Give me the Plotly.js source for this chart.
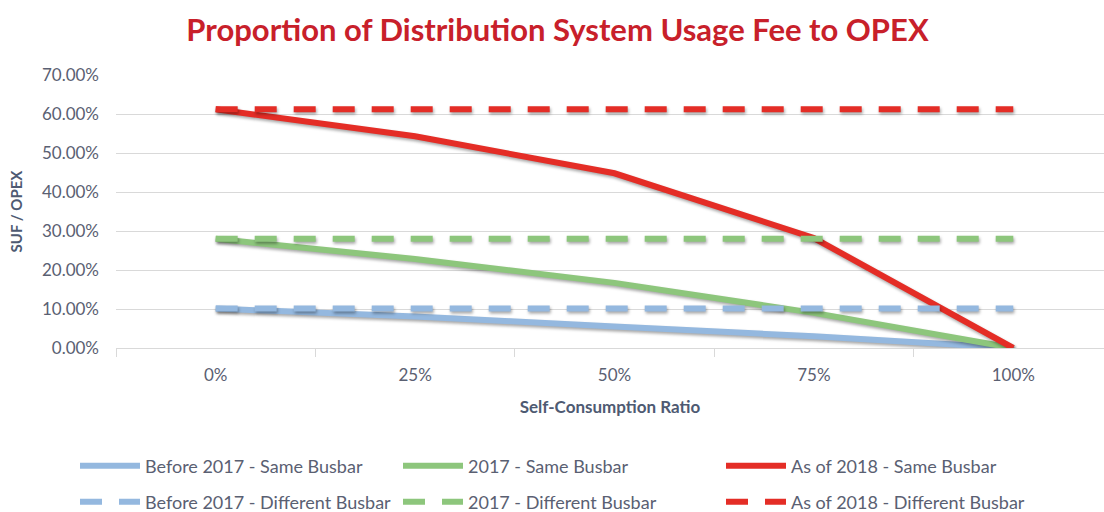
<!DOCTYPE html>
<html>
<head>
<meta charset="utf-8">
<script src="https://cdn.plot.ly/plotly-3.0.1.min.js"></script>
<style>
  html, body { margin: 0; padding: 0; background: #ffffff; }
  #chart { width: 1104px; height: 512px; }
</style>
</head>
<body>
<div id="chart"></div>
<script>
// Self-consumption ratio categories
const categories = ['0%', '25%', '50%', '75%', '100%'];

// Share of the distribution system usage fee in OPEX, per tariff period
const before2017Same = [0.101, 0.081, 0.055, 0.030, 0.000];
const y2017Same = [0.280, 0.228, 0.167, 0.090, 0.000];
const asOf2018Same = [0.612, 0.543, 0.448, 0.282, 0.000];
const before2017Different = [0.101, 0.101, 0.101, 0.101, 0.101];
const y2017Different = [0.280, 0.280, 0.280, 0.280, 0.280];
const asOf2018Different = [0.612, 0.612, 0.612, 0.612, 0.612];

const seriesNames = [
  'Before 2017 - Same Busbar', '2017 - Same Busbar', 'As of 2018 - Same Busbar',
  'Before 2017 - Different Busbar', '2017 - Different Busbar', 'As of 2018 - Different Busbar'
];

const BLUE = '#94B8DF';
const GREEN = '#8DC67C';
const RED = '#E42D26';
const TEXT = '#5A6072';
const AXIS_TITLE = '#4E5A72';
const GRID = '#D9D9D9';
const FONT = 'Lato, "Open Sans", sans-serif';

function line(y, name, color, dashed, legendId) {
  return {
    x: categories,
    y: y,
    name: name,
    type: 'scatter',
    mode: 'lines',
    line: { color: color, width: 6, dash: dashed ? '22px,17px' : 'solid' },
    legend: legendId,
    hoverinfo: 'x+y+name'
  };
}

const data = [
  line(before2017Same, seriesNames[0], BLUE, false, 'legend'),
  line(y2017Same, seriesNames[1], GREEN, false, 'legend'),
  line(asOf2018Same, seriesNames[2], RED, false, 'legend'),
  line(before2017Different, seriesNames[3], BLUE, true, 'legend2'),
  line(y2017Different, seriesNames[4], GREEN, true, 'legend2'),
  line(asOf2018Different, seriesNames[5], RED, true, 'legend2')
];

const legendBase = {
  orientation: 'h',
  xref: 'container',
  yref: 'container',
  x: 75 / 1104,
  xanchor: 'left',
  yanchor: 'middle',
  itemwidth: 60,
  entrywidth: 248,
  traceorder: 'normal',
  bgcolor: 'rgba(0,0,0,0)',
  font: { family: FONT, size: 18, color: TEXT }
};

const layout = {
  width: 1104,
  height: 512,
  paper_bgcolor: '#ffffff',
  plot_bgcolor: '#ffffff',
  margin: { l: 116, r: 0, t: 75, b: 164, pad: 0 },
  title: {
    text: 'Proportion of Distribution System Usage Fee to OPEX',
    font: { family: FONT, size: 31, color: '#C8202A', weight: 'bold' },
    xref: 'container',
    yref: 'container',
    x: 0.505,
    xanchor: 'center',
    y: 1 - 30 / 512,
    yanchor: 'middle'
  },
  xaxis: {
    type: 'category',
    range: [-0.5, 4.455],
    tickson: 'boundaries',
    ticks: 'outside',
    ticklen: 8,
    tickcolor: GRID,
    showline: true,
    linecolor: GRID,
    linewidth: 1,
    showgrid: false,
    zeroline: false,
    fixedrange: true,
    ticklabelstandoff: 12,
    tickfont: { family: FONT, size: 17, color: TEXT },
    title: {
      text: 'Self-Consumption Ratio',
      font: { family: FONT, size: 17, color: AXIS_TITLE, weight: 'bold' },
      standoff: 16
    }
  },
  yaxis: {
    range: [0, 0.7],
    dtick: 0.1,
    tick0: 0,
    tickformat: '.2%',
    showgrid: true,
    gridcolor: GRID,
    gridwidth: 1,
    zeroline: false,
    showline: false,
    fixedrange: true,
    ticks: '',
    ticklabelstandoff: 16,
    tickfont: { family: FONT, size: 17, color: TEXT },
    title: {
      text: 'SUF / OPEX',
      font: { family: FONT, size: 15, color: AXIS_TITLE, weight: 'bold' },
      standoff: 15
    }
  },
  legend: Object.assign({}, legendBase, { y: 1 - 466 / 512 }),
  legend2: Object.assign({}, legendBase, { y: 1 - 502 / 512 }),
  showlegend: true
};

Plotly.newPlot('chart', data, layout, { displayModeBar: false }).then(function (gd) {
  // soft drop shadow under the plotted lines
  gd.querySelectorAll('.scatterlayer .js-line').forEach(function (p) {
    p.style.filter = 'drop-shadow(1px 2px 1.5px rgba(0,0,0,0.35))';
  });
});
</script>
</body>
</html>
